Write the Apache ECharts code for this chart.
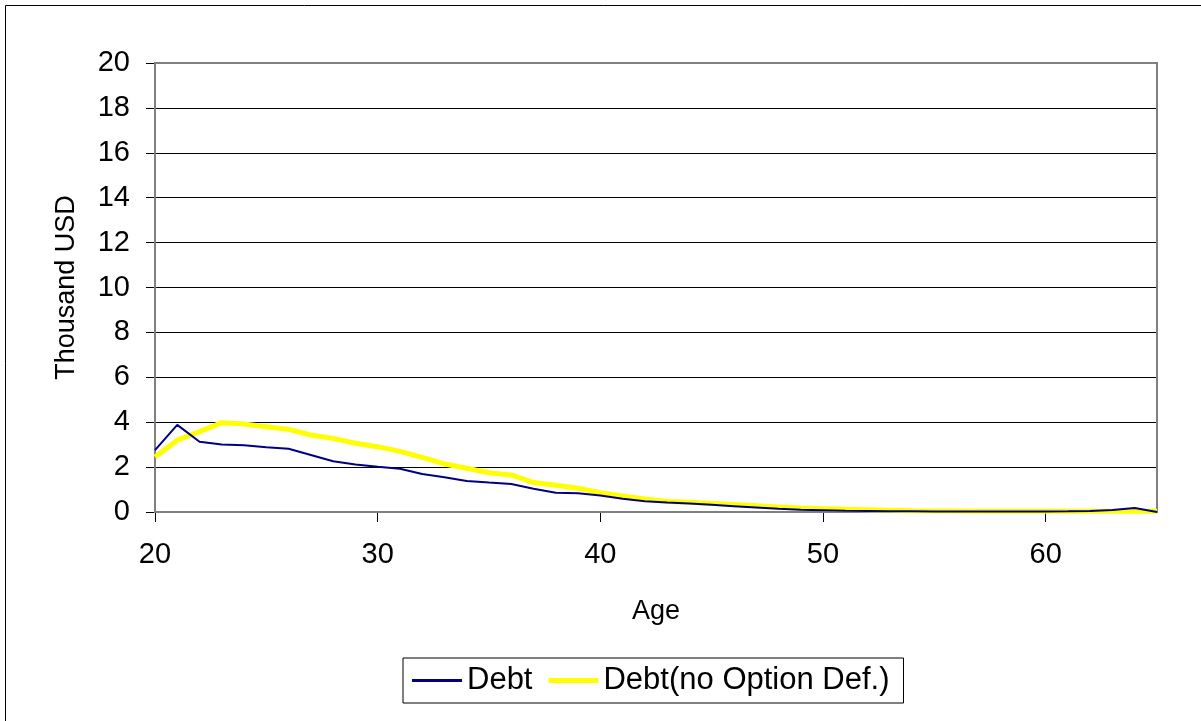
<!DOCTYPE html>
<html>
<head>
<meta charset="utf-8">
<script src="https://cdn.jsdelivr.net/npm/echarts@6/dist/echarts.min.js"></script>
<style>
  html, body { margin: 0; padding: 0; background: #fff; }
  #chart { width: 1201px; height: 721px; }
</style>
</head>
<body>
<div id="chart"></div>
<script>
// Age in years
const ages = [20,21,22,23,24,25,26,27,28,29,30,31,32,33,34,35,36,37,38,39,40,41,42,43,44,45,46,47,48,49,50,51,52,53,54,55,56,57,58,59,60,61,62,63,64,65];

// Debt, thousand USD
const debt = [2.76,3.88,3.13,3.01,2.97,2.88,2.82,2.54,2.26,2.12,2.02,1.93,1.69,1.55,1.38,1.31,1.25,1.04,0.86,0.83,0.74,0.59,0.48,0.42,0.38,0.32,0.26,0.20,0.14,0.10,0.08,0.06,0.05,0.03,0.03,0.02,0.02,0.02,0.02,0.02,0.02,0.03,0.05,0.09,0.18,0.0];

// Debt without the default option, thousand USD
const debtNoOption = [2.45,3.20,3.58,3.98,3.92,3.80,3.68,3.43,3.28,3.06,2.91,2.70,2.43,2.14,1.95,1.75,1.65,1.31,1.19,1.06,0.86,0.71,0.58,0.47,0.43,0.38,0.33,0.28,0.22,0.18,0.15,0.12,0.10,0.08,0.06,0.05,0.04,0.03,0.03,0.03,0.03,0.03,0.03,0.03,0.03,0.03];

const seriesNames = ['Debt', 'Debt(no Option Def.)'];

const FONT = 'Liberation Sans, Arial, sans-serif';

const chart = echarts.init(document.getElementById('chart'), null, { renderer: 'canvas' });

const pairs = arr => ages.map((a, i) => [a, arr[i]]);

chart.setOption({
  animation: false,
  backgroundColor: '#ffffff',
  textStyle: { fontFamily: FONT },
  graphic: [{
    type: 'rect',
    shape: { x: 5.5, y: 5.5, width: 1200, height: 720 },
    style: { fill: 'none', stroke: '#000', lineWidth: 1 },
    silent: true
  }],
  grid: {
    left: 155, right: 44, top: 63, bottom: 209,
    show: true, borderColor: '#808080', borderWidth: 2, z: 1
  },
  legend: {
    data: [
      { name: seriesNames[0], icon: 'path://M0,0H50V3H0Z' },
      { name: seriesNames[1], icon: 'path://M0,0H50V5H0Z' }
    ],
    symbolKeepAspect: true,
    bottom: 18,
    left: 403,
    itemWidth: 50,
    itemHeight: 14,
    itemGap: 16,
    padding: [7, 14, 7, 9],
    borderColor: '#000',
    borderWidth: 1,
    borderRadius: 0,
    textStyle: { fontSize: 31, color: '#000', fontFamily: FONT }
  },
  xAxis: {
    type: 'value',
    min: 20, max: 65, interval: 10,
    name: 'Age',
    nameLocation: 'middle',
    nameGap: 86,
    nameTextStyle: { fontSize: 27, color: '#000', fontFamily: FONT },
    axisLine: { show: true, lineStyle: { color: '#000', width: 1 } },
    axisTick: { show: true, length: 10, lineStyle: { color: '#000' } },
    axisLabel: { fontSize: 29, color: '#000', margin: 28, showMaxLabel: false, fontFamily: FONT },
    splitLine: { show: false }
  },
  yAxis: {
    type: 'value',
    min: 0, max: 20, interval: 2,
    name: 'Thousand USD',
    nameLocation: 'middle',
    nameGap: 75,
    nameRotate: 90,
    nameTextStyle: { fontSize: 27, color: '#000', fontFamily: FONT },
    axisLine: { show: true, lineStyle: { color: '#000', width: 1 } },
    axisTick: { show: true, length: 9, lineStyle: { color: '#000' } },
    axisLabel: { fontSize: 29, color: '#000', margin: 25, fontFamily: FONT },
    splitLine: { show: true, lineStyle: { color: '#000', width: 1 } }
  },
  series: [
    {
      name: seriesNames[0],
      type: 'line',
      data: pairs(debt),
      showSymbol: false,
      symbol: 'none',
      color: '#000080',
      lineStyle: { color: '#000080', width: 2 },
      z: 3
    },
    {
      name: seriesNames[1],
      type: 'line',
      data: pairs(debtNoOption),
      showSymbol: false,
      symbol: 'none',
      color: '#ffff00',
      lineStyle: { color: '#ffff00', width: 5 },
      z: 2
    }
  ]
});
</script>
</body>
</html>
